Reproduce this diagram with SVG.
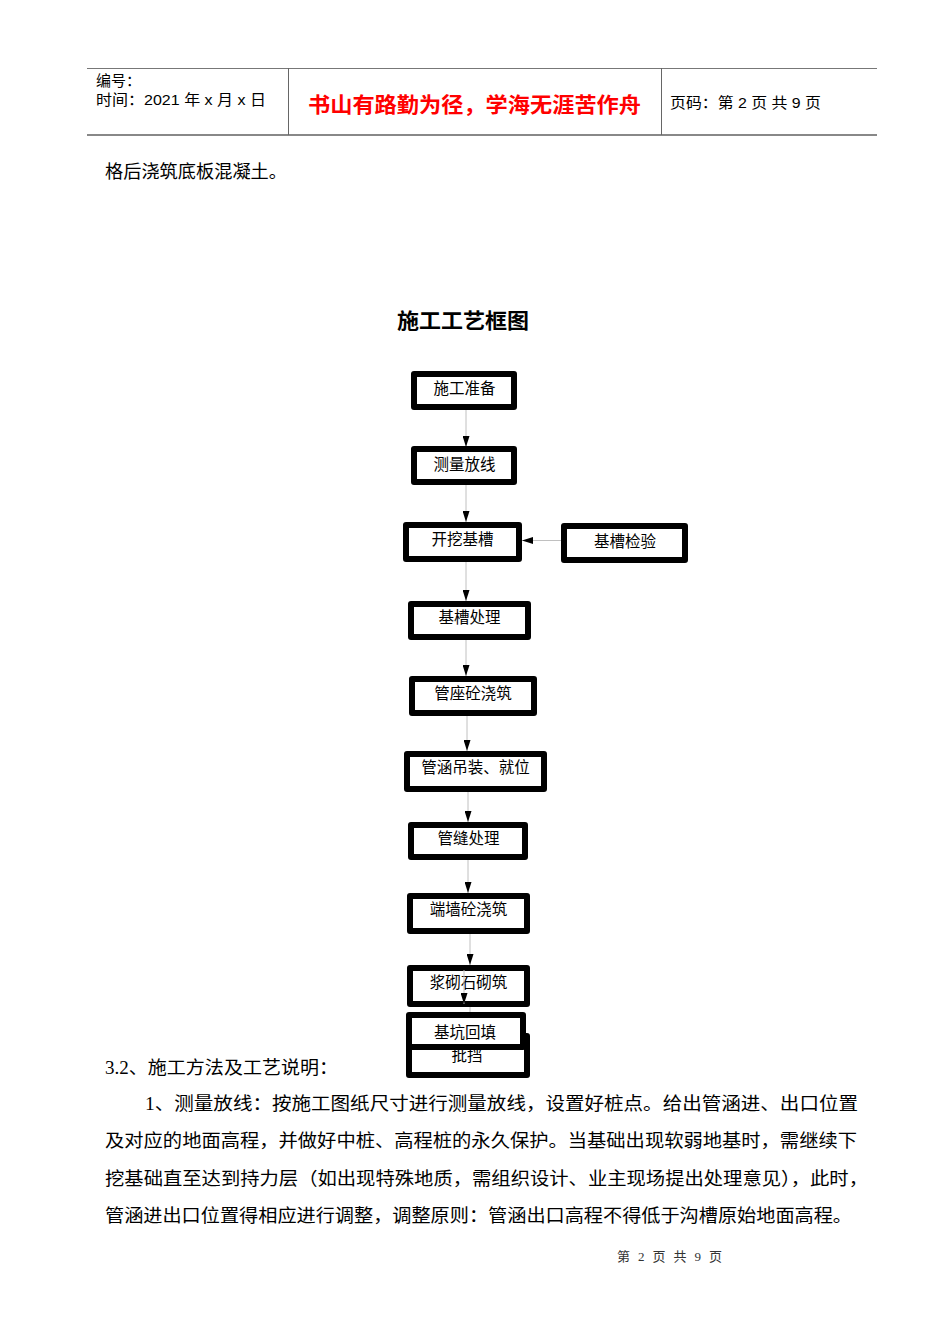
<svg xmlns="http://www.w3.org/2000/svg" width="950" height="1344" viewBox="0 0 950 1344">
<defs>
<style>
.hd{font-family:"Liberation Sans","Noto Sans CJK SC",sans-serif;font-size:15px;fill:#000}
.red{font-family:"Noto Sans CJK SC",sans-serif;font-size:21px;font-weight:bold;fill:#ff0000}
.body{font-family:"Liberation Serif","Noto Sans CJK SC",serif;font-size:18px;fill:#000}
.title{font-family:"Noto Sans CJK SC",sans-serif;font-size:21px;font-weight:bold;fill:#000}
.foot{font-family:"Liberation Serif","Noto Sans CJK SC",serif;font-size:13px;fill:#333}
.box{fill:#fff;stroke:#000;stroke-width:6;stroke-linejoin:round}
.bt{font-family:"Liberation Serif","Noto Sans CJK SC",serif;font-size:15.5px;fill:#000;text-anchor:middle}
.conn{stroke:#c0c0c0;stroke-width:1;fill:none}
</style>
<marker id="ah" markerUnits="userSpaceOnUse" markerWidth="11" markerHeight="7" refX="11" refY="3.5" orient="auto">
<path d="M0,0 L11,3.5 L0,7 z" fill="#000"/>
</marker>
</defs>
<rect width="950" height="1344" fill="#fff"/>

<g id="header">
<line x1="87" y1="68.5" x2="877" y2="68.5" stroke="#777" stroke-width="1"/>
<line x1="87" y1="135" x2="877" y2="135" stroke="#888" stroke-width="2"/>
<line x1="288.5" y1="68" x2="288.5" y2="135" stroke="#666" stroke-width="1"/>
<line x1="661.5" y1="68" x2="661.5" y2="135" stroke="#666" stroke-width="1"/>
<text class="hd" x="96" y="86">编号：</text>
<text class="hd" x="96" y="105" textLength="170" lengthAdjust="spacingAndGlyphs">时间：2021 年 x 月 x 日</text>
<text class="red" x="308" y="112" textLength="333" lengthAdjust="spacingAndGlyphs">书山有路勤为径，学海无涯苦作舟</text>
<text class="hd" x="670" y="108" textLength="151" lengthAdjust="spacingAndGlyphs">页码：第 2 页  共 9 页</text>
</g>

<text class="body" x="105" y="178" textLength="182" lengthAdjust="spacingAndGlyphs">格后浇筑底板混凝土。</text>
<text class="title" x="397" y="328" textLength="132" lengthAdjust="spacingAndGlyphs">施工工艺框图</text>

<g id="connectors">
<line class="conn" x1="466" y1="409" x2="466" y2="447" marker-end="url(#ah)"/>
<line class="conn" x1="466" y1="485" x2="466" y2="522" marker-end="url(#ah)"/>
<line class="conn" x1="561" y1="540.5" x2="522" y2="540.5" marker-end="url(#ah)"/>
<line class="conn" x1="466" y1="562" x2="466" y2="601" marker-end="url(#ah)"/>
<line class="conn" x1="466" y1="640" x2="466" y2="676" marker-end="url(#ah)"/>
<line class="conn" x1="467" y1="716" x2="467" y2="751" marker-end="url(#ah)"/>
<line class="conn" x1="468" y1="792" x2="468" y2="822" marker-end="url(#ah)"/>
<line class="conn" x1="468" y1="860" x2="468" y2="893" marker-end="url(#ah)"/>
<line class="conn" x1="470" y1="934" x2="470" y2="965" marker-end="url(#ah)"/>
</g>

<g id="n1"><rect class="box" x="414" y="374" width="100" height="33"/><text class="bt" x="464.5" y="394">施工准备</text></g>
<g id="n2"><rect class="box" x="414" y="449" width="100" height="33"/><text class="bt" x="464.5" y="470">测量放线</text></g>
<g id="n3"><rect class="box" x="406" y="525" width="113" height="34"/><text class="bt" x="462.5" y="545">开挖基槽</text></g>
<g id="n4"><rect class="box" x="564" y="526" width="121" height="34"/><text class="bt" x="625" y="547">基槽检验</text></g>
<g id="n5"><rect class="box" x="411" y="604" width="117" height="33"/><text class="bt" x="469.5" y="623">基槽处理</text></g>
<g id="n6"><rect class="box" x="412" y="679" width="122" height="34"/><text class="bt" x="473" y="699">管座砼浇筑</text></g>
<g id="n7"><rect class="box" x="407" y="754" width="137" height="35"/><text class="bt" x="475.5" y="773">管涵吊装、就位</text></g>
<g id="n8"><rect class="box" x="411" y="825" width="114" height="32"/><text class="bt" x="468.5" y="844">管缝处理</text></g>
<g id="n9"><rect class="box" x="410" y="896" width="117" height="35"/><text class="bt" x="468.5" y="915">端墙砼浇筑</text></g>
<g id="n10"><rect class="box" x="410" y="968" width="117" height="36"/><text class="bt" x="468.5" y="988">浆砌石砌筑</text></g>

<g id="connectors2">
<line class="conn" x1="470" y1="1007" x2="470" y2="1030"/>
<line class="conn" x1="464" y1="970" x2="464" y2="1004" marker-end="url(#ah)"/>
</g>

<g id="n11"><rect class="box" x="409" y="1036" width="118" height="39"/><text class="bt" x="467" y="1061">批挡</text></g>
<g id="n12"><rect class="box" x="409" y="1015" width="114" height="32"/><text class="bt" x="465" y="1038">基坑回填</text></g>

<text class="body" x="105" y="1074" font-size="17" textLength="233" lengthAdjust="spacingAndGlyphs">3.2、施工方法及工艺说明：</text>
<text class="body" x="145" y="1110" textLength="713" lengthAdjust="spacingAndGlyphs">1、测量放线：按施工图纸尺寸进行测量放线，设置好桩点。给出管涵进、出口位置</text>
<text class="body" x="105" y="1147" textLength="752" lengthAdjust="spacingAndGlyphs">及对应的地面高程，并做好中桩、高程桩的永久保护。当基础出现软弱地基时，需继续下</text>
<text class="body" x="105" y="1185" textLength="763" lengthAdjust="spacingAndGlyphs">挖基础直至达到持力层（如出现特殊地质，需组织设计、业主现场提出处理意见），此时，</text>
<text class="body" x="105" y="1222" textLength="747" lengthAdjust="spacingAndGlyphs">管涵进出口位置得相应进行调整，调整原则：管涵出口高程不得低于沟槽原始地面高程。</text>

<text class="foot" x="617" y="1261" textLength="105" lengthAdjust="spacing">第 2 页 共 9 页</text>
</svg>
